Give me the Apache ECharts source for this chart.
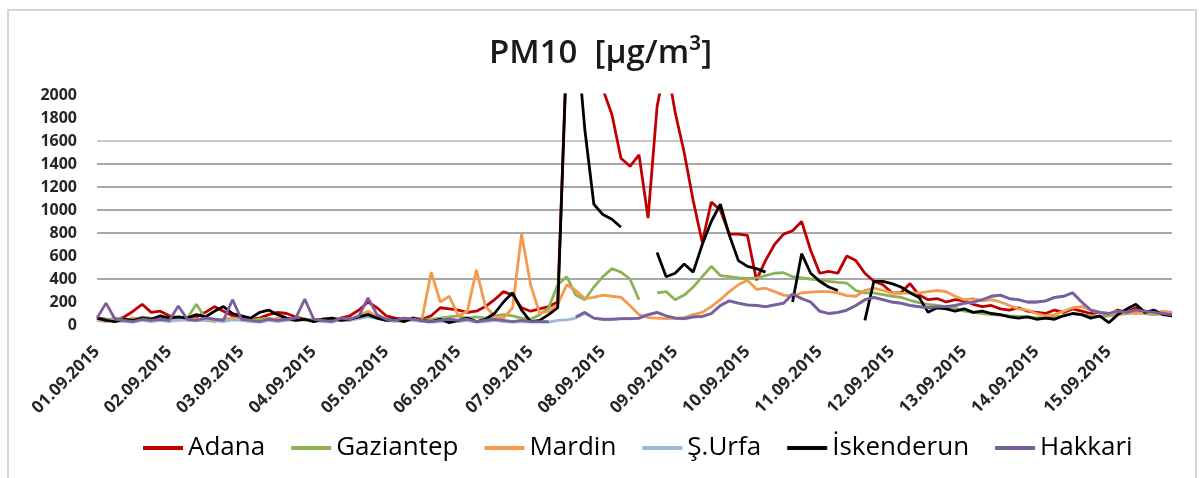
<!DOCTYPE html>
<html>
<head>
<meta charset="utf-8">
<script src="https://cdn.jsdelivr.net/npm/echarts@6/dist/echarts.min.js"></script>
<style>
html,body{margin:0;padding:0;background:#fff;}
#chart{width:1201px;height:478px;}
</style>
</head>
<body>
<div id="chart"></div>
<script>
// Day labels (tick labels) and 3-hourly sampling
const days = ['01.09.2015','02.09.2015','03.09.2015','04.09.2015','05.09.2015','06.09.2015','07.09.2015','08.09.2015','09.09.2015','10.09.2015','11.09.2015','12.09.2015','13.09.2015','14.09.2015','15.09.2015'];
const hours = ['00:00','03:00','06:00','09:00','12:00','15:00','18:00','21:00'];
const seriesNames = ['Adana','Gaziantep','Mardin','Ş.Urfa','İskenderun','Hakkari'];

const adana = [
60,50,40,70,120,180,110,120,80,60,
50,70,110,160,120,80,60,50,60,90,
110,100,70,50,40,50,40,60,80,130,
200,150,80,60,50,60,50,80,150,140,
130,110,120,160,220,290,260,150,120,140,
160,200,2400,2600,2500,2300,2050,1830,1450,1380,
1480,930,1900,2300,1850,1500,1080,720,1070,1000,
790,790,780,390,560,700,790,820,900,650,
450,467,450,600,560,450,380,350,280,280,
360,260,220,230,200,220,210,180,160,170,
140,130,150,120,110,100,130,110,140,120,
100,110,90,130,110,150,120,100,110,100];

const gaziantep = [
50,40,60,50,40,70,60,50,40,60,
60,180,60,50,40,60,50,40,50,60,
40,50,60,40,50,30,40,60,50,70,
90,60,50,40,50,60,40,50,60,70,
80,60,70,60,80,90,80,60,50,90,
150,350,420,260,220,330,420,490,460,400,
220,null,280,290,220,260,330,420,510,430,
420,410,405,410,430,450,455,420,410,400,
390,380,370,365,300,280,280,265,250,240,
215,195,180,170,160,150,120,110,100,90,
85,80,75,70,65,60,70,80,100,90,
80,70,80,90,100,110,100,90,100,110];

const mardin = [
40,30,50,40,60,50,40,70,50,40,
60,50,40,30,50,60,40,50,30,40,
60,50,40,50,30,40,60,50,40,80,
120,70,50,40,30,50,60,460,200,250,
80,120,480,160,80,60,150,790,350,100,
120,180,350,300,230,240,260,250,240,170,
90,65,60,55,60,65,90,110,160,220,
290,350,390,310,320,290,260,250,280,285,
290,290,280,255,250,300,320,300,280,275,
280,280,290,300,290,250,220,230,210,220,
200,170,140,130,100,80,90,120,150,160,
130,110,100,90,110,100,110,100,120,110];

const urfa = [
40,45,35,30,25,40,30,40,30,45,
40,35,45,40,30,45,40,30,25,40,
30,40,45,50,40,30,25,45,40,55,
70,60,40,30,45,40,30,25,30,40,
30,40,25,30,40,30,25,30,25,25,
25,40,45,60,100,58,48,48,53,53,
58,88,108,78,58,53,68,73,98,168,
208,188,173,168,158,173,188,268,228,198,
118,98,108,128,168,218,238,218,198,188,
168,158,148,158,158,168,188,198,218,248,
258,228,218,198,198,208,238,248,278,198,
128,108,98,118,108,128,118,108,98,88];

const iskenderun = [
60,40,30,50,40,60,50,80,60,70,
60,90,70,120,160,100,80,60,110,130,
90,60,40,50,30,50,60,40,50,70,
90,60,40,50,30,60,40,30,50,20,
40,60,30,50,100,200,280,130,30,40,
90,150,2400,2600,1700,1050,960,920,850,null,
null,null,630,420,450,530,460,700,900,1050,
780,560,510,490,460,null,null,200,620,450,
380,330,300,null,null,40,380,380,360,330,
280,240,110,150,140,120,140,110,120,100,
90,70,60,70,50,60,50,80,100,90,
60,80,20,90,140,180,110,130,90,80];

const hakkari = [
60,190,50,40,30,50,40,50,40,165,
50,40,60,50,40,220,50,40,30,50,
40,50,60,225,50,40,30,60,50,80,
235,90,50,40,60,50,40,30,40,50,
40,50,30,40,50,40,30,40,30,30,
30,null,null,70,110,60,50,50,55,55,
60,90,110,80,60,55,70,75,100,170,
210,190,175,170,160,175,190,270,230,200,
120,100,110,130,170,220,240,220,200,190,
170,160,150,160,160,170,190,200,220,250,
260,230,220,200,200,210,240,250,280,200,
130,110,100,120,110,130,120,110,100,90];

const categories = [];
days.forEach(d => hours.forEach(h => categories.push(d + ' ' + h)));

const colors = ['#C00000','#8DB255','#F39A4E','#9DB9DA','#000000','#7A5F9C'];
const dataList = [adana, gaziantep, mardin, urfa, iskenderun, hakkari];

const chart = echarts.init(document.getElementById('chart'), null, {renderer:'canvas'});
const FONT = "'Open Sans', 'DejaVu Sans', sans-serif";
chart.setOption({
  animation:false,
  backgroundColor:'#fff',
  color: colors,
  graphic:[{type:'rect', shape:{x:8,y:10,width:1188,height:472}, style:{fill:'none', stroke:'#d6d6d6', lineWidth:2}, z:-1}],
  title:{text:'PM10  [µg/m³]', left:'center', top:32, textStyle:{fontFamily:FONT, fontSize:33, fontWeight:600, color:'#1a1a1a'}},
  legend:{bottom:12, left:138, icon:'rect', itemWidth:40, itemHeight:4, itemGap:26,
    textStyle:{fontFamily:FONT, fontSize:26, color:'#000'}, data: seriesNames},
  grid:{left:97, right:29, top:95, bottom:153},
  xAxis:{type:'category', data:categories, boundaryGap:false,
    axisLine:{show:false}, axisTick:{show:false},
    axisLabel:{interval:7, rotate:45, margin:24, fontFamily:FONT, fontSize:17, fontWeight:'bold', color:'#262626',
      formatter: v => v.split(' ')[0]}},
  yAxis:{type:'value', min:0, max:2000, interval:200,
    axisLine:{show:false}, axisTick:{show:false},
    axisLabel:{margin:20, fontFamily:FONT, fontSize:16, fontWeight:'bold', color:'#262626', formatter: v => String(v)},
    splitLine:{show:true, lineStyle:{width:2, color:['rgba(0,0,0,0)','rgba(0,0,0,0)','#a8a8a8','rgba(0,0,0,0)','#a8a8a8','#a8a8a8','#a8a8a8','#a8a8a8','#c8c8c8','rgba(0,0,0,0)','rgba(0,0,0,0)']}}},
  series: seriesNames.map((n,k)=>({
    name:n, type:'line', data:dataList[k], showSymbol:false, symbol:'none',
    connectNulls:false, clip:true, lineStyle:{width:2.8, color:colors[k]}, itemStyle:{color:colors[k]}
  }))
});
</script>
</body>
</html>
